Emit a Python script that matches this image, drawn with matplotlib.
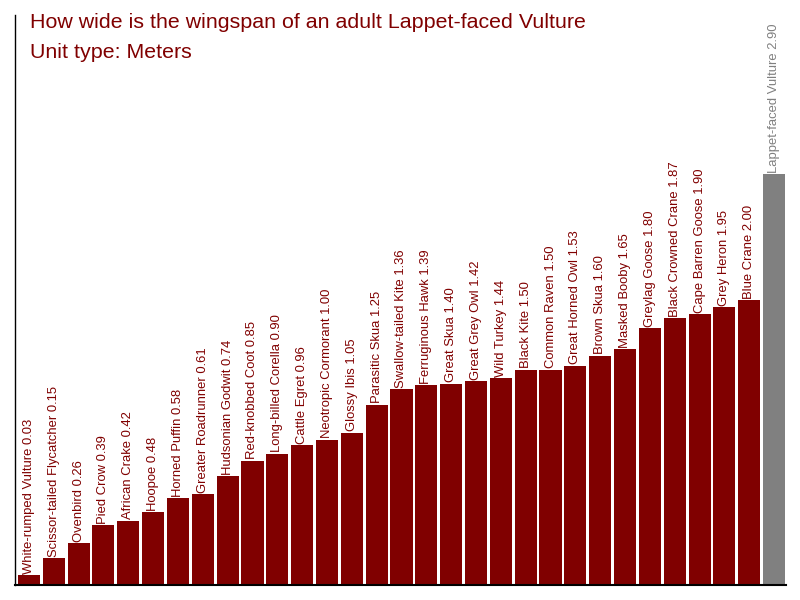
"""Wingspan comparison bar chart."""
import matplotlib

matplotlib.use("Agg")
import matplotlib.pyplot as plt
import numpy as np

plt.rcParams["font.family"] = ["Liberation Sans", "DejaVu Sans"]

birds = [
    "White-rumped Vulture", "Scissor-tailed Flycatcher", "Ovenbird", "Pied Crow",
    "African Crake", "Hoopoe", "Horned Puffin", "Greater Roadrunner",
    "Hudsonian Godwit", "Red-knobbed Coot", "Long-billed Corella", "Cattle Egret",
    "Neotropic Cormorant", "Glossy Ibis", "Parasitic Skua", "Swallow-tailed Kite",
    "Ferruginous Hawk", "Great Skua", "Great Grey Owl", "Wild Turkey",
    "Black Kite", "Common Raven", "Great Horned Owl", "Brown Skua",
    "Masked Booby", "Greylag Goose", "Black Crowned Crane", "Cape Barren Goose",
    "Grey Heron", "Blue Crane", "Lappet-faced Vulture",
]
wingspan = [
    0.03, 0.15, 0.26, 0.39, 0.42, 0.48, 0.58, 0.61, 0.74, 0.85, 0.90, 0.96,
    1.00, 1.05, 1.25, 1.36, 1.39, 1.40, 1.42, 1.44, 1.50, 1.50, 1.53, 1.60,
    1.65, 1.80, 1.87, 1.90, 1.95, 2.00, 2.90,
]
highlight = "Lappet-faced Vulture"

red = "#800000"
grey = "#808080"

ymin, ymax = -0.04, 4.04

fig = plt.figure(figsize=(8, 6), dpi=100)
ax = fig.add_axes([15 / 800, 15 / 600, 771 / 800, 570 / 600])

x = np.arange(len(birds))
vals = np.array(wingspan)
colors = [grey if b == highlight else red for b in birds]
# bars run down to the baseline of the axis
ax.bar(x, vals - ymin, width=0.89, color=colors, bottom=ymin)

for xi, name, val, c in zip(x, birds, wingspan, colors):
    ax.text(xi, val + 0.01, f"{name} {val:.2f}", rotation=90, ha="center",
            va="bottom", color=c, fontsize=9.4)

ax.set_xlim(-0.56, 30.48)
ax.set_ylim(ymin, ymax)
ax.set_xticks([])
ax.set_yticks([])
for side in ["top", "right"]:
    ax.spines[side].set_visible(False)
ax.spines["left"].set_linewidth(1)
ax.spines["bottom"].set_linewidth(1.5)

fig.text(30 / 800, 1 - 22.5 / 600,
         "How wide is the wingspan of an adult Lappet-faced Vulture",
         color=red, fontsize=15.4, va="center", ha="left")
fig.text(30 / 800, 1 - 52.5 / 600, "Unit type: Meters",
         color=red, fontsize=15.4, va="center", ha="left")

fig.savefig("out.png", dpi=100)
